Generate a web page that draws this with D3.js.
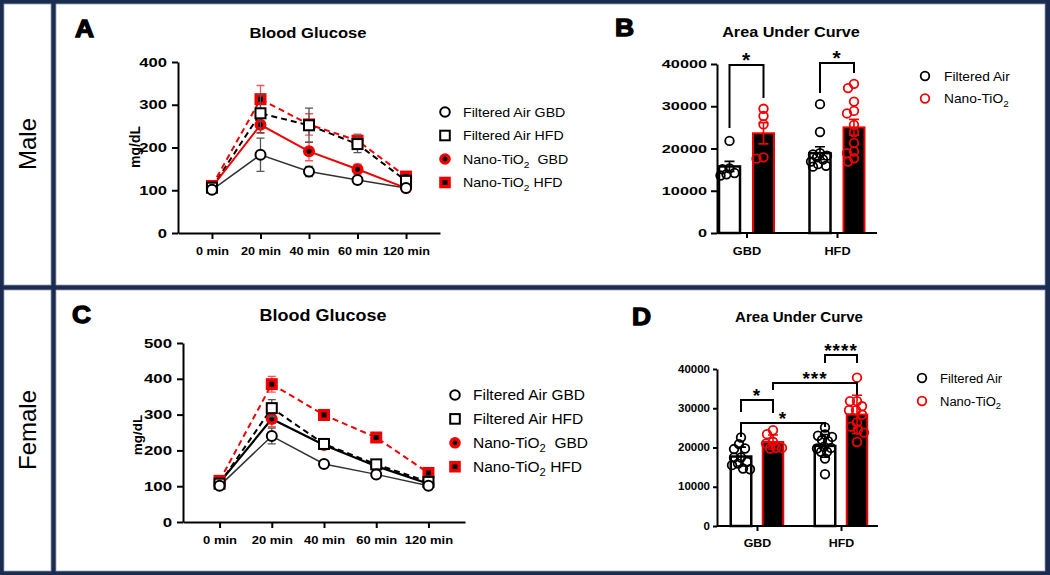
<!DOCTYPE html>
<meta charset="utf-8">
<style>
    body { margin: 0; background: #fff; }
    svg { display: block; font-family: "Liberation Sans", Arial, sans-serif; }
    .axis path, .axis line { stroke: #000; stroke-width: 2; }
</style>
<body>
<script src="https://cdn.jsdelivr.net/npm/d3@7/dist/d3.min.js"></script>
<script>

    var width = 1050,
        height = 575;

    // glucose tolerance test
    var times = ["0 min", "20 min", "40 min", "60 min", "120 min"];
    var lineLegend = ["Filtered Air GBD", "Filtered Air HFD", "Nano-TiO2  GBD", "Nano-TiO2 HFD"];

    // male, mg/dL (mean and SEM)
    var maleFaGbd = [101, 183, 144, 124, 105],  maleFaGbdErr = [3, 39, 12, 6, 3];
    var maleFaHfd = [106, 280, 252, 208, 122],  maleFaHfdErr = [4, 45, 40, 20, 8];
    var maleNanoGbd = [107, 253, 191, 149, 105], maleNanoGbdErr = [4, 20, 22, 12, 3];
    var maleNanoHfd = [110, 313, 254, 216, 132], maleNanoHfdErr = [5, 32, 25, 15, 6];

    // female, mg/dL
    var femaleFaGbd = [101, 240, 162, 133, 101],  femaleFaGbdErr = [3, 22, 5, 5, 3];
    var femaleFaHfd = [107, 318, 218, 161, 112],  femaleFaHfdErr = [4, 24, 8, 6, 4];
    var femaleNanoGbd = [110, 288, 215, 156, 107], femaleNanoGbdErr = [4, 22, 10, 6, 3];
    var femaleNanoHfd = [115, 385, 299, 236, 137], femaleNanoHfdErr = [5, 22, 15, 12, 5];

    // area under curve
    var diets = ["GBD", "HFD"];
    var exposures = ["Filtered Air", "Nano-TiO2"];
    var aucTicks = [0, 10000, 20000, 30000, 40000];

    var maleAucFa = [15750, 18900],  maleAucFaErr = [1200, 1500];
    var maleAucNano = [23600, 25000], maleAucNanoErr = [2500, 1900];
    var maleFaGbdPts = [21800, 15300, 15100, 13600, 14200, 13900];
    var maleNanoGbdPts = [29400, 27700, 25700, 17600, 17900];
    var maleFaHfdPts = [30500, 23900, 18900, 18600, 18300, 17900, 17400, 16900, 16300, 15900, 15700];
    var maleNanoHfdPts = [34300, 35300, 31100, 28300, 28900, 25600, 23900, 21300, 18900, 19300, 16900, 17700];

    var femaleAucFa = [17700, 20400],  femaleAucFaErr = [2400, 2900];
    var femaleAucNano = [21400, 28400], femaleAucNanoErr = [1800, 4900];
    var femaleFaGbdPts = [22550, 20850, 19750, 19600, 17450, 17450, 16350, 15900, 15500, 14650, 14450];
    var femaleNanoGbdPts = [24400, 23400, 21450, 21000, 19900, 19750, 19900];
    var femaleFaHfdPts = [25100, 23300, 23000, 22700, 21900, 21600, 20200, 19750, 19900, 18900, 18900, 17200, 13200];
    var femaleNanoHfdPts = [37800, 31800, 31800, 30500, 29500, 29500, 28400, 26400, 25300, 24600, 23800, 21400];

    // significance brackets: [diet1, exposure1, diet2, exposure2, top, leg1 end, leg2 end, label]
    var maleSig = [
        ["GBD", 0, "GBD", 1, 39760, 24850, 31950, "*"],
        ["HFD", 0, "HFD", 1, 40230, 33140, 37870, "*"]
    ];
    var femaleSig = [
        ["HFD", 0, "HFD", 1, 43570, 41530, 41530, "****"],
        ["GBD", 1, "HFD", 1, 36430, 34650, 33380, "***"],
        ["GBD", 0, "GBD", 1, 32100, 29050, 28790, "*"],
        ["GBD", 0, "HFD", 0, 26240, 22680, 25220, "*"]
    ];

    var rows = ["Male", "Female"];
    var navy = "#1b2c52",
        red = "#f00000";

    var svg = d3.select("body").append("svg")
        .attr("width", width)
        .attr("height", height);

    // frame
    svg.append("rect").attr("width", width).attr("height", height).attr("fill", navy);
    [[4, 4, 47, 281], [56, 4, 989, 281], [4, 290, 47, 281], [56, 290, 989, 281]].forEach(function(c) {
        svg.append("rect").attr("x", c[0]).attr("y", c[1]).attr("width", c[2]).attr("height", c[3])
            .attr("fill", "#fff").attr("stroke", "#9aa0ad").attr("stroke-width", 0.8);
    });
    rows.forEach(function(r, i) {
        svg.append("text")
            .attr("transform", "translate(36," + (144 + i * 286) + ") rotate(-90)")
            .attr("text-anchor", "middle")
            .style("font-size", "24px")
            .text(r);
    });

    function stretchText(g, x, y, s, size, anchor) {
        return g.append("text")
            .attr("transform", "translate(" + x + "," + y + ") scale(" + s + ",1)")
            .attr("text-anchor", anchor || "start")
            .style("font-size", size + "px");
    }

    function withSub(t, label, size) {
        var i = label.indexOf("TiO2");
        if (i < 0) { t.text(label); return; }
        t.append("tspan").text(label.slice(0, i + 3));
        t.append("tspan").attr("dy", size * 0.28).style("font-size", (size * 0.72) + "px").text("2");
        var rest = label.slice(i + 4);
        if (rest) t.append("tspan").attr("dy", -size * 0.28).text(rest.replace(/ /g, "\u00a0"));
    }

    function heading(g, c) {
        stretchText(g, c.letterX, c.letterY, 1.1, 24)
            .style("font-weight", "bold").attr("stroke", "#000").attr("stroke-width", 1.3)
            .text(c.letter);
        stretchText(g, c.titleX, c.titleY, c.titleScale, c.titleSize, "middle")
            .style("font-weight", "bold").text(c.title);
    }

    function styleAxes(c, ax, ay) {
        ay.selectAll("text")
            .attr("x", -c.yGap / c.yTickScale)
            .attr("transform", "scale(" + c.yTickScale + ",1)")
            .style("font-size", c.yTickSize + "px").style("font-weight", "bold")
            .style("font-family", "'Liberation Sans', Arial, sans-serif").attr("fill", "#000");
        ax.selectAll("text")
            .attr("y", c.xGap)
            .attr("transform", "scale(" + c.xTickScale + ",1)")
            .style("font-size", c.xTickSize + "px").style("font-weight", "bold")
            .style("font-family", "'Liberation Sans', Arial, sans-serif").attr("fill", "#000");
    }

    function drawMarker(m, st, r) {
        if (st.marker === "circle") {
            if (st.filled) {
                m.append("circle").attr("r", r + 1).attr("fill", red);
                m.append("circle").attr("r", r * 0.5).attr("fill", "#000");
            } else {
                m.append("circle").attr("r", r).attr("fill", "#fff").attr("stroke", "#000").attr("stroke-width", 2);
            }
        } else {
            if (st.filled) {
                m.append("rect").attr("x", -r - 1).attr("y", -r - 1).attr("width", 2 * r + 2).attr("height", 2 * r + 2).attr("fill", red);
                m.append("rect").attr("x", -r * 0.5).attr("y", -r * 0.5).attr("width", r).attr("height", r).attr("fill", "#000");
            } else {
                m.append("rect").attr("x", -r).attr("y", -r).attr("width", 2 * r).attr("height", 2 * r)
                    .attr("fill", "#fff").attr("stroke", "#000").attr("stroke-width", 2);
            }
        }
    }

    function lineChart(c) {
        var g = svg.append("g");
        var x = d3.scalePoint().domain(times).range([c.x0, c.x1]).padding(0.7);
        var y = d3.scaleLinear().domain([0, c.ymax]).range([c.y0, c.y1]);

        var ax = g.append("g").attr("class", "axis").attr("transform", "translate(0," + c.y0 + ")")
            .call(d3.axisBottom(x).tickSize(6).tickSizeOuter(0));
        var ay = g.append("g").attr("class", "axis").attr("transform", "translate(" + c.x0 + ",0)")
            .call(d3.axisLeft(y).tickValues(d3.range(0, c.ymax + 1, 100)).tickSize(6).tickSizeOuter(0));
        styleAxes(c, ax, ay);

        g.append("text")
            .attr("transform", "translate(" + c.yLabelX + "," + c.yLabelY + ") rotate(-90)")
            .attr("text-anchor", "middle").attr("dy", "0.35em")
            .style("font-size", c.yLabelSize + "px").style("font-weight", "bold")
            .text("mg/dL");
        heading(g, c);

        var line = d3.line().x(function(d, i) { return x(times[i]); }).y(function(d) { return y(d); });

        c.series.forEach(function(s, k) {
            var st = c.styles[k];
            g.append("path").datum(s).attr("d", line).attr("fill", "none")
                .attr("stroke", st.color).attr("stroke-width", st.width)
                .attr("stroke-dasharray", st.dash);
        });

        [3, 2, 1, 0].forEach(function(k) {
            var st = c.styles[k], s = c.series[k], e = c.errs[k];
            var eg = g.append("g").attr("stroke", st.err).attr("stroke-width", 1.3).attr("fill", "none");
            s.forEach(function(v, i) {
                var px = x(times[i]);
                eg.append("path").attr("d",
                    "M" + px + "," + y(v - e[i]) + "V" + y(v + e[i]) +
                    "M" + (px - 4) + "," + y(v + e[i]) + "H" + (px + 4) +
                    "M" + (px - 4) + "," + y(v - e[i]) + "H" + (px + 4));
            });
            s.forEach(function(v, i) {
                drawMarker(g.append("g").attr("transform", "translate(" + x(times[i]) + "," + y(v) + ")"), st, 5);
            });
        });

        lineLegend.forEach(function(lab, k) {
            var ly = c.legendY + k * c.legendStep;
            drawMarker(g.append("g").attr("transform", "translate(" + c.legendX + "," + ly + ")"), c.styles[k], 4.8);
            var t = stretchText(g, c.legendTextX, ly + c.legendSize * 0.36, c.legendScale, c.legendSize);
            withSub(t, lab, c.legendSize);
        });
    }

    // simple deterministic beeswarm, offsets in px
    function swarm(vals, y, r, maxOff) {
        var order = d3.range(vals.length).sort(function(a, b) { return vals[b] - vals[a]; });
        var offs = new Array(vals.length), placed = [];
        var cands = [0];
        for (var d = 1; d <= maxOff; d++) cands.push(-d, d);
        order.forEach(function(i) {
            var py = y(vals[i]), best = 0, bestDist = -1;
            for (var j = 0; j < cands.length; j++) {
                var md = Infinity;
                placed.forEach(function(p) {
                    md = Math.min(md, Math.hypot(p[0] - cands[j], p[1] - py));
                });
                if (md >= 2 * r * 0.75) { best = cands[j]; bestDist = md; break; }
                if (md > bestDist) { bestDist = md; best = cands[j]; }
            }
            offs[i] = best;
            placed.push([best, py]);
        });
        return offs;
    }

    function barChart(c) {
        var g = svg.append("g");
        var x = d3.scalePoint().domain(diets).range(c.groupRange);
        var xs = d3.scalePoint().domain([0, 1]).range([-c.off, c.off]);
        var y = d3.scaleLinear().domain([0, 40000]).range([c.y0, c.y1]);

        var means = [c.fa, c.nano], errs = [c.faErr, c.nanoErr];
        exposures.forEach(function(ex, k) {
            diets.forEach(function(dt, i) {
                var cx = x(dt) + xs(k);
                g.append("rect")
                    .attr("x", cx - c.bw / 2).attr("y", y(means[k][i]))
                    .attr("width", c.bw).attr("height", y(0) - y(means[k][i]))
                    .attr("fill", k ? "#000" : "#fff")
                    .attr("stroke", k ? red : "#000").attr("stroke-width", k ? 2 : 2.5);
            });
        });

        var ax = g.append("g").attr("class", "axis").attr("transform", "translate(0," + c.y0 + ")")
            .call(d3.axisBottom(x).tickSize(5).tickSizeOuter(0));
        ax.select(".domain").attr("d", "M" + c.x0 + ",0H" + c.x1);
        var ay = g.append("g").attr("class", "axis").attr("transform", "translate(" + c.x0 + ",0)")
            .call(d3.axisLeft(y).tickValues(aucTicks).tickFormat(d3.format("d")).tickSize(c.yTick).tickSizeOuter(0));
        styleAxes(c, ax, ay);
        heading(g, c);

        exposures.forEach(function(ex, k) {
            var col = k ? red : "#000";
            diets.forEach(function(dt, i) {
                var cx = x(dt) + xs(k), v = means[k][i], e = errs[k][i];
                g.append("path").attr("fill", "none").attr("stroke", col).attr("stroke-width", 1.6)
                    .attr("d", "M" + cx + "," + y(v - e) + "V" + y(v + e) +
                        "M" + (cx - 5) + "," + y(v + e) + "H" + (cx + 5) +
                        "M" + (cx - 5) + "," + y(v - e) + "H" + (cx + 5));
                var pts = c.points[k][i];
                var offs = swarm(pts, y, 4.5, 9);
                pts.forEach(function(p, j) {
                    g.append("circle").attr("cx", cx + offs[j]).attr("cy", y(p)).attr("r", 4.3)
                        .attr("fill", "none").attr("stroke", col).attr("stroke-width", 1.8);
                });
            });
        });

        c.sig.forEach(function(s) {
            var x1 = x(s[0]) + xs(s[1]), x2 = x(s[2]) + xs(s[3]);
            g.append("path").attr("fill", "none").attr("stroke", "#000").attr("stroke-width", 2)
                .attr("d", "M" + x1 + "," + y(s[5]) + "V" + y(s[4]) + "H" + x2 + "V" + y(s[6]));
            g.append("text").attr("x", (x1 + x2) / 2).attr("y", y(s[4]) + 2)
                .attr("text-anchor", "middle").style("font-size", c.starSize + "px")
                .style("font-weight", "bold").style("letter-spacing", "1px").text(s[7]);
        });

        exposures.forEach(function(ex, k) {
            var ly = c.legendY + k * c.legendStep;
            g.append("circle").attr("cx", c.legendX).attr("cy", ly).attr("r", 4.3)
                .attr("fill", "none").attr("stroke", k ? red : "#000").attr("stroke-width", 1.8);
            var t = stretchText(g, c.legendTextX, ly + c.legendSize * 0.36, c.legendScale, c.legendSize);
            withSub(t, ex, c.legendSize);
        });
    }

    var faGbdStyle = { color: "#333", width: 1.5, dash: null, marker: "circle", filled: false, err: "#555" },
        faHfdStyle = { color: "#000", width: 2, dash: "6,4", marker: "square", filled: false, err: "#555" },
        nanoHfdStyle = { color: red, width: 2, dash: "6,4", marker: "square", filled: true, err: "#f55" };

    lineChart({
        x0: 178, x1: 440, y0: 233, y1: 62, ymax: 400,
        series: [maleFaGbd, maleFaHfd, maleNanoGbd, maleNanoHfd],
        errs: [maleFaGbdErr, maleFaHfdErr, maleNanoGbdErr, maleNanoHfdErr],
        styles: [faGbdStyle, faHfdStyle,
            { color: red, width: 2, dash: null, marker: "circle", filled: true, err: "#f55" }, nanoHfdStyle],
        letter: "A", letterX: 75, letterY: 37,
        title: "Blood Glucose", titleX: 308, titleY: 38, titleSize: 15.5, titleScale: 1.07,
        yLabelX: 135, yLabelY: 147, yLabelSize: 14,
        yTickSize: 12.5, yTickScale: 1.33, yGap: 11, xTickSize: 11, xTickScale: 1.15, xGap: 14,
        legendX: 445, legendY: 112, legendStep: 23.5, legendTextX: 463, legendSize: 13.5, legendScale: 1.05
    });

    lineChart({
        x0: 183, x1: 465, y0: 522, y1: 343, ymax: 500,
        series: [femaleFaGbd, femaleFaHfd, femaleNanoGbd, femaleNanoHfd],
        errs: [femaleFaGbdErr, femaleFaHfdErr, femaleNanoGbdErr, femaleNanoHfdErr],
        styles: [faGbdStyle, faHfdStyle,
            { color: "#000", width: 2.2, dash: null, marker: "circle", filled: true, err: "#f55" }, nanoHfdStyle],
        letter: "C", letterX: 72, letterY: 323,
        title: "Blood Glucose", titleX: 323, titleY: 321, titleSize: 16.5, titleScale: 1.09,
        yLabelX: 137, yLabelY: 435, yLabelSize: 13.5,
        yTickSize: 12.5, yTickScale: 1.35, yGap: 11, xTickSize: 11.3, xTickScale: 1.15, xGap: 14,
        legendX: 455, legendY: 395, legendStep: 23.9, legendTextX: 473, legendSize: 14.5, legendScale: 1.07
    });

    barChart({
        x0: 717, x1: 877, y0: 233, y1: 64, groupRange: [746.5, 837], off: 17, bw: 21, yTick: 6,
        fa: maleAucFa, faErr: maleAucFaErr, nano: maleAucNano, nanoErr: maleAucNanoErr,
        points: [[maleFaGbdPts, maleFaHfdPts], [maleNanoGbdPts, maleNanoHfdPts]],
        sig: maleSig, starSize: 21,
        letter: "B", letterX: 615, letterY: 36,
        title: "Area Under Curve", titleX: 791, titleY: 37, titleSize: 15, titleScale: 1.08,
        yTickSize: 11.6, yTickScale: 1.4, yGap: 10, xTickSize: 10.7, xTickScale: 1.19, xGap: 14,
        legendX: 925, legendY: 76, legendStep: 22.5, legendTextX: 944, legendSize: 13, legendScale: 1.06
    });

    barChart({
        x0: 717, x1: 878, y0: 526, y1: 369, groupRange: [757, 841], off: 16, bw: 20.5, yTick: 4,
        fa: femaleAucFa, faErr: femaleAucFaErr, nano: femaleAucNano, nanoErr: femaleAucNanoErr,
        points: [[femaleFaGbdPts, femaleFaHfdPts], [femaleNanoGbdPts, femaleNanoHfdPts]],
        sig: femaleSig, starSize: 19,
        letter: "D", letterX: 632, letterY: 325,
        title: "Area Under Curve", titleX: 799, titleY: 322, titleSize: 14, titleScale: 1.075,
        yTickSize: 10, yTickScale: 1.15, yGap: 7, xTickSize: 11, xTickScale: 1.13, xGap: 13,
        legendX: 922, legendY: 378, legendStep: 23, legendTextX: 940, legendSize: 12.5, legendScale: 1.04
    });

</script>
